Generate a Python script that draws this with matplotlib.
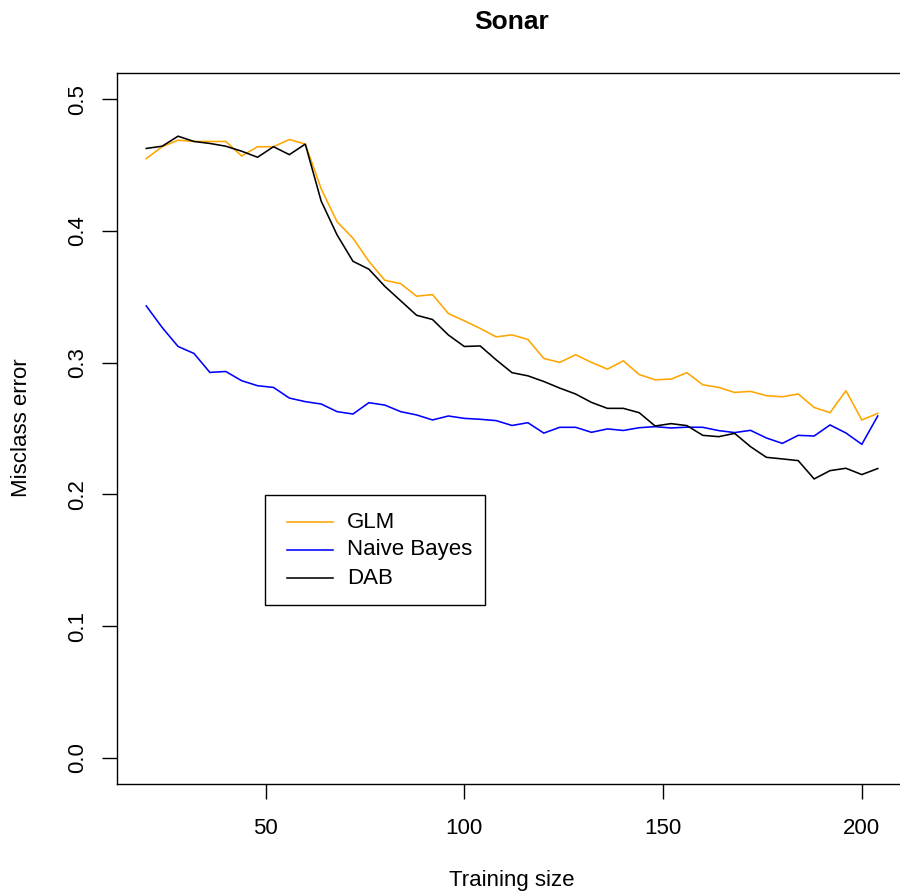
import matplotlib
matplotlib.use("Agg")
import matplotlib.pyplot as plt
from matplotlib.patches import Rectangle
from matplotlib.lines import Line2D

plt.rcParams['font.family'] = ['Liberation Sans', 'DejaVu Sans']

training_size = list(range(20, 205, 4))

glm = [0.455, 0.464, 0.469, 0.468, 0.468, 0.468, 0.457, 0.464, 0.464, 0.4695,
       0.466, 0.432, 0.407, 0.3945, 0.377, 0.3626, 0.360, 0.3505, 0.3517, 0.3373,
       0.3318, 0.326, 0.3196, 0.3211, 0.3176, 0.3032, 0.3002, 0.306, 0.3002, 0.2951,
       0.3014, 0.2910, 0.2870, 0.2875, 0.2924, 0.2832, 0.2812, 0.2774, 0.2782, 0.2749,
       0.2741, 0.2762, 0.266, 0.262, 0.2787, 0.2565, 0.2615]

naive_bayes = [0.3431, 0.3267, 0.3123, 0.307, 0.2926, 0.2933, 0.2863, 0.2825, 0.2812, 0.2731,
               0.2704, 0.2686, 0.2628, 0.261, 0.2696, 0.2678, 0.2628, 0.2603, 0.2565, 0.2595,
               0.2577, 0.2570, 0.256, 0.2523, 0.2544, 0.2465, 0.2509, 0.2509, 0.2471, 0.2497,
               0.2485, 0.2506, 0.2514, 0.2504, 0.2510, 0.2509, 0.2484, 0.2469, 0.2486, 0.2428,
               0.2387, 0.2448, 0.2443, 0.2527, 0.2466, 0.238, 0.2595]

dab = [0.4627, 0.4644, 0.472, 0.468, 0.4665, 0.4644, 0.4606, 0.456, 0.464, 0.458,
       0.466, 0.4227, 0.397, 0.377, 0.371, 0.358, 0.347, 0.336, 0.3328, 0.321,
       0.3123, 0.3127, 0.3022, 0.2924, 0.29, 0.2857, 0.2807, 0.2762, 0.2698, 0.2653,
       0.2653, 0.262, 0.2519, 0.2537, 0.2522, 0.2448, 0.2438, 0.2463, 0.2362, 0.2281,
       0.2269, 0.2256, 0.2117, 0.218, 0.2198, 0.215, 0.2196]

series_names = ["GLM", "Naive Bayes", "DAB"]
series_colors = ["#FFA500", "#0000FF", "#000000"]
x_ticks = [50, 100, 150, 200]
y_ticks = [0.0, 0.1, 0.2, 0.3, 0.4, 0.5]

W, H = 900, 896
fig = plt.figure(figsize=(W / 100, H / 100), dpi=100)

def fx(px):
    return px / W

def fy(py):
    return (H - py) / H

ax_left, ax_right, ax_top, ax_bottom = 117, 907, 73, 784
ax = fig.add_axes([fx(ax_left), fy(ax_bottom), fx(ax_right - ax_left), (ax_bottom - ax_top) / H])

for vals, col in zip([glm, naive_bayes, dab], series_colors):
    ax.plot(training_size, vals, color=col, lw=1.15, solid_joinstyle='miter')

xr = max(training_size) - min(training_size)
ax.set_xlim(min(training_size) - 0.04 * xr, max(training_size) + 0.04 * xr)
ax.set_ylim(-0.02, 0.52)

ax.set_xticks(x_ticks)
ax.set_xticklabels([str(t) for t in x_ticks])
ax.set_yticks(y_ticks)
ax.set_yticklabels([f"{t:.1f}" for t in y_ticks], rotation=90, va='center')
ax.tick_params(axis='both', direction='out', length=10.5, width=1.0, labelsize=16, color='black')
ax.tick_params(axis='x', pad=14)
ax.tick_params(axis='y', pad=10)
for s in ax.spines.values():
    s.set_linewidth(1.0)
    s.set_color('black')

fig.text(fx(512), fy(22), "Sonar", ha='center', va='center', fontsize=19, fontweight='bold')
fig.text(fx(512), fy(880), "Training size", ha='center', va='center', fontsize=16)
fig.text(fx(22), fy(428), "Misclass error", ha='center', va='center', fontsize=16, rotation=90)

# legend box
fig.patches.append(Rectangle((fx(265), fy(605)), fx(485) - fx(265), (605 - 495) / H,
                             transform=fig.transFigure, fill=False, edgecolor='black', lw=1.0))
for i, (name, col) in enumerate(zip(series_names, series_colors)):
    yy = 522 + 28 * i
    fig.lines.append(Line2D([fx(287), fx(333)], [fy(yy), fy(yy)], transform=fig.transFigure,
                            color=col, lw=1.15))
    fig.text(fx(347), fy(yy), name, ha='left', va='center', fontsize=16)

fig.savefig("out.png", dpi=100)
